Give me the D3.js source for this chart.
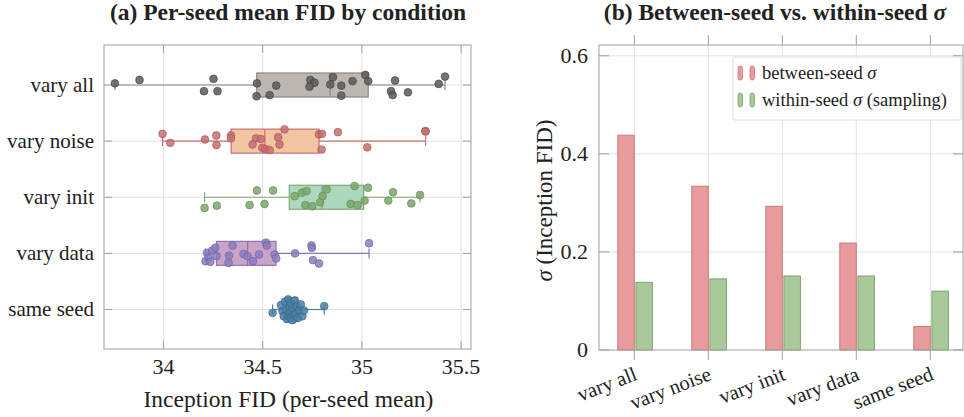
<!DOCTYPE html>
<html>
<head>
<meta charset="utf-8">
<script src="https://cdn.jsdelivr.net/npm/d3@7"></script>
<style>
  body { margin: 0; background: #fff; }
  text { font-family: "Liberation Serif", "Times New Roman", serif; fill: #222; }
</style>
</head>
<body>
<svg id="chart" width="964" height="417"></svg>
<script>
// ---- data ----
const conditions = ["vary all", "vary noise", "vary init", "vary data", "same seed"];

// per-seed mean FID values and vertical jitter (fraction of a row)
const fidVaryAll = [33.755, 33.879, 34.252, 34.204, 34.272, 34.471, 34.469, 34.535, 34.568, 34.740, 34.761, 34.736, 34.854,
  34.841, 34.896, 34.896, 34.953, 35.017, 35.032, 35.167, 35.147, 35.155, 35.232, 35.387, 35.419];
const jitVaryAll = [-0.03, -0.09, -0.11, 0.11, 0.11, -0.03, 0.20, 0.18, 0.01, -0.09, -0.04, 0.03, -0.14,
  -0.01, 0.01, 0.19, -0.07, -0.18, -0.07, -0.08, 0.11, 0.18, 0.13, -0.02, -0.15];

const fidVaryNoise = [33.995, 34.034, 34.209, 34.266, 34.267, 34.340, 34.340, 34.466, 34.491, 34.449, 34.498, 34.513,
  34.535, 34.578, 34.585, 34.610, 34.784, 34.799, 34.797, 34.879, 35.027, 35.320, 35.321];
const jitVaryNoise = [-0.13, 0.03, -0.03, -0.10, 0.07, -0.10, -0.05, -0.05, -0.04, 0.06, 0.12, 0.14,
  0.16, -0.07, 0.06, -0.21, -0.12, -0.13, 0.15, -0.16, 0.11, -0.18, -0.17];

const fidVaryInit = [34.207, 34.269, 34.471, 34.552, 34.434, 34.509, 34.661, 34.698, 34.721, 34.715, 34.750, 34.790,
  34.802, 34.822, 34.943, 34.963, 34.978, 35.014, 35.031, 35.133, 35.157, 35.249, 35.293];
const jitVaryInit = [0.19, 0.15, -0.12, -0.12, 0.14, 0.12, -0.02, -0.08, -0.11, 0.14, 0.16, 0.09,
  -0.02, -0.14, 0.12, -0.20, 0.14, 0.06, -0.17, 0.06, -0.09, 0.11, -0.04];

const fidVaryData = [34.212, 34.219, 34.227, 34.236, 34.245, 34.261, 34.267, 34.348, 34.330, 34.328, 34.403, 34.424,
  34.451, 34.481, 34.516, 34.521, 34.560, 34.568, 34.663, 34.746, 34.748, 34.753, 34.784, 35.036];
const jitVaryData = [0.14, -0.01, 0.08, 0.15, -0.05, -0.10, 0.05, -0.14, 0.04, 0.17, 0.01, 0.05,
  0.14, 0.02, -0.19, -0.14, 0.02, 0.09, 0.00, -0.14, -0.10, 0.12, 0.18, -0.18];

const fidSameSeed = [34.550, 34.592, 34.600, 34.606, 34.612, 34.618, 34.622, 34.628, 34.632, 34.636, 34.640, 34.643,
  34.646, 34.650, 34.654, 34.658, 34.662, 34.666, 34.672, 34.678, 34.684, 34.692, 34.700, 34.708, 34.810];
const jitSameSeed = [0.06, -0.08, 0.03, 0.12, -0.14, 0.00, 0.17, -0.18, 0.08, -0.05, 0.14, -0.11,
  0.04, 0.19, -0.02, 0.10, -0.16, 0.07, -0.06, 0.15, 0.01, -0.09, 0.12, 0.02, -0.06];

// box stats: [whisker low, q1, median, q3, whisker high]
const boxVaryAll   = [33.755, 34.470, 34.840, 35.032, 35.419];
const boxVaryNoise = [33.995, 34.341, 34.511, 34.784, 35.321];
const boxVaryInit  = [34.207, 34.634, 34.799, 35.009, 35.293];
const boxVaryData  = [34.212, 34.267, 34.424, 34.567, 35.036];
const boxSameSeed  = [34.550, 34.618, 34.645, 34.675, 34.810];

const xTicksA = [34, 34.5, 35, 35.5];

// panel (b)
const sigmaBetween = [0.438, 0.334, 0.293, 0.218, 0.048];
const sigmaWithin  = [0.138, 0.145, 0.151, 0.151, 0.120];
const yTicksB = [0, 0.2, 0.4, 0.6];

// ---- styles ----
const palette = {
  "vary all":   {pt: "#5a5a5a", ptStroke: "#3e3e3e", box: "#bcb7b2", line: "#8c8884"},
  "vary noise": {pt: "#c46e6e", ptStroke: "#a85454", box: "#f3c4a0", line: "#c27272"},
  "vary init":  {pt: "#7ea46e", ptStroke: "#62894f", box: "#acd9bd", line: "#82a874"},
  "vary data":  {pt: "#8c7cbc", ptStroke: "#6f5fa2", box: "#caa4c6", line: "#8a76b6"},
  "same seed":  {pt: "#4a7fa3", ptStroke: "#346688", box: "#9cbbd2", line: "#4a7fa3"}
};
const gridCol = "#e3e3e3", frameCol = "#a0a0a0";
const tickFont = 22, labelFont = 21, titleFont = 23.5;

const rows = [
  {name: conditions[0], fid: fidVaryAll, jit: jitVaryAll, box: boxVaryAll},
  {name: conditions[1], fid: fidVaryNoise, jit: jitVaryNoise, box: boxVaryNoise},
  {name: conditions[2], fid: fidVaryInit, jit: jitVaryInit, box: boxVaryInit},
  {name: conditions[3], fid: fidVaryData, jit: jitVaryData, box: boxVaryData},
  {name: conditions[4], fid: fidSameSeed, jit: jitSameSeed, box: boxSameSeed}
];

const svg = d3.select("#chart");

// ================= panel (a) =================
const A = {left: 104, right: 471, top: 45, bottom: 349};
const x = d3.scaleLinear().domain([33.70, 35.55]).range([A.left, A.right]);
const y = d3.scalePoint().domain(conditions).range([85, 309.5]);
const rowH = y.step();

const ga = svg.append("g");

ga.selectAll("line.vgrid").data(xTicksA).enter().append("line")
  .attr("x1", d => x(d)).attr("x2", d => x(d))
  .attr("y1", A.top).attr("y2", A.bottom)
  .attr("stroke", gridCol).attr("stroke-width", 1);
ga.selectAll("line.hgrid").data(conditions).enter().append("line")
  .attr("x1", A.left).attr("x2", A.right)
  .attr("y1", d => y(d)).attr("y2", d => y(d))
  .attr("stroke", gridCol).attr("stroke-width", 1);

// ticks (inside, both sides)
ga.selectAll("line.tt").data(xTicksA).enter().append("line")
  .attr("x1", d => x(d)).attr("x2", d => x(d))
  .attr("y1", A.top).attr("y2", A.top + 8)
  .attr("stroke", frameCol);
ga.selectAll("line.tb").data(xTicksA).enter().append("line")
  .attr("x1", d => x(d)).attr("x2", d => x(d))
  .attr("y1", A.bottom).attr("y2", A.bottom - 8)
  .attr("stroke", frameCol);
ga.selectAll("line.tl").data(conditions).enter().append("line")
  .attr("x1", A.left).attr("x2", A.left + 8)
  .attr("y1", d => y(d)).attr("y2", d => y(d))
  .attr("stroke", frameCol);
ga.selectAll("line.tr").data(conditions).enter().append("line")
  .attr("x1", A.right).attr("x2", A.right - 8)
  .attr("y1", d => y(d)).attr("y2", d => y(d))
  .attr("stroke", frameCol);

const boxH = 24;
rows.forEach(function (r) {
  const c = palette[r.name], cy = y(r.name), b = r.box;
  const g = ga.append("g");
  // whiskers
  g.append("line").attr("x1", x(b[0])).attr("x2", x(b[1])).attr("y1", cy).attr("y2", cy)
    .attr("stroke", c.line).attr("stroke-width", 1.2);
  g.append("line").attr("x1", x(b[3])).attr("x2", x(b[4])).attr("y1", cy).attr("y2", cy)
    .attr("stroke", c.line).attr("stroke-width", 1.2);
  [b[0], b[4]].forEach(v => g.append("line")
    .attr("x1", x(v)).attr("x2", x(v)).attr("y1", cy - 5).attr("y2", cy + 5)
    .attr("stroke", c.line).attr("stroke-width", 1.2));
  // box
  g.append("rect")
    .attr("x", x(b[1])).attr("y", cy - boxH / 2)
    .attr("width", x(b[3]) - x(b[1])).attr("height", boxH)
    .attr("fill", c.box).attr("stroke", c.line).attr("stroke-width", 1.2);
  g.append("line").attr("x1", x(b[2])).attr("x2", x(b[2]))
    .attr("y1", cy - boxH / 2).attr("y2", cy + boxH / 2)
    .attr("stroke", c.line).attr("stroke-width", 1.2);
  // jittered points
  g.selectAll("circle").data(r.fid.map((v, i) => ({v: v, j: r.jit[i]}))).enter()
    .append("circle")
    .attr("cx", d => x(d.v))
    .attr("cy", d => cy + d.j * rowH)
    .attr("r", 3.9)
    .attr("fill", c.pt).attr("fill-opacity", 0.85)
    .attr("stroke", c.ptStroke).attr("stroke-width", 0.6);
});

// frame
ga.append("rect").attr("x", A.left).attr("y", A.top)
  .attr("width", A.right - A.left).attr("height", A.bottom - A.top)
  .attr("fill", "none").attr("stroke", frameCol).attr("stroke-width", 1);

ga.selectAll("text.xt").data(xTicksA).enter().append("text")
  .attr("x", d => x(d)).attr("y", A.bottom + 25)
  .attr("text-anchor", "middle").attr("font-size", tickFont)
  .text(d => d);
ga.selectAll("text.yt").data(conditions).enter().append("text")
  .attr("x", A.left - 10).attr("y", d => y(d)).attr("dy", "0.32em")
  .attr("text-anchor", "end").attr("font-size", labelFont)
  .text(d => d);
ga.append("text").attr("x", (A.left + A.right) / 2 + 1).attr("y", 407)
  .attr("text-anchor", "middle").attr("font-size", titleFont)
  .text("Inception FID (per-seed mean)");
ga.append("text").attr("x", 288).attr("y", 20)
  .attr("text-anchor", "middle").attr("font-size", titleFont).attr("font-weight", "bold")
  .text("(a) Per-seed mean FID by condition");

// ================= panel (b) =================
const B = {left: 599, right: 963, top: 45, bottom: 350};
const xb = d3.scalePoint().domain(conditions).range([634.3, 930.3]);
const yb = d3.scaleLinear().domain([0, 0.622]).range([B.bottom, B.top]);
const barW = 16.5, barGap = 1.6;
const red = {fill: "#e89b9b", stroke: "#c97a7a"};
const green = {fill: "#a9c99a", stroke: "#7fa56f"};

const gb = svg.append("g");
gb.selectAll("line.vg").data(conditions).enter().append("line")
  .attr("x1", d => xb(d)).attr("x2", d => xb(d))
  .attr("y1", B.top).attr("y2", B.bottom)
  .attr("stroke", gridCol);
gb.selectAll("line.hg").data(yTicksB.slice(1)).enter().append("line")
  .attr("x1", B.left).attr("x2", B.right)
  .attr("y1", d => yb(d)).attr("y2", d => yb(d))
  .attr("stroke", gridCol);
// ticks
gb.selectAll("line.tt").data(conditions).enter().append("line")
  .attr("x1", d => xb(d)).attr("x2", d => xb(d))
  .attr("y1", B.top).attr("y2", B.top - 10).attr("stroke", frameCol);
gb.selectAll("line.tb").data(conditions).enter().append("line")
  .attr("x1", d => xb(d)).attr("x2", d => xb(d))
  .attr("y1", B.bottom).attr("y2", B.bottom + 10).attr("stroke", frameCol);
gb.selectAll("line.tl").data(yTicksB).enter().append("line")
  .attr("x1", B.left).attr("x2", B.left + 10)
  .attr("y1", d => yb(d)).attr("y2", d => yb(d)).attr("stroke", frameCol);
gb.selectAll("line.tr").data(yTicksB).enter().append("line")
  .attr("x1", B.right).attr("x2", B.right - 10)
  .attr("y1", d => yb(d)).attr("y2", d => yb(d)).attr("stroke", frameCol);

gb.selectAll("rect.between").data(sigmaBetween).enter().append("rect")
  .attr("x", (d, i) => xb(conditions[i]) - barW)
  .attr("y", d => yb(d)).attr("width", barW).attr("height", d => yb(0) - yb(d))
  .attr("fill", red.fill).attr("stroke", red.stroke).attr("stroke-width", 1);
gb.selectAll("rect.within").data(sigmaWithin).enter().append("rect")
  .attr("x", (d, i) => xb(conditions[i]) + barGap)
  .attr("y", d => yb(d)).attr("width", barW).attr("height", d => yb(0) - yb(d))
  .attr("fill", green.fill).attr("stroke", green.stroke).attr("stroke-width", 1);

gb.append("rect").attr("x", B.left).attr("y", B.top)
  .attr("width", B.right - B.left).attr("height", B.bottom - B.top)
  .attr("fill", "none").attr("stroke", frameCol).attr("stroke-width", 1);

gb.selectAll("text.yt").data(yTicksB).enter().append("text")
  .attr("x", B.left - 11).attr("y", d => yb(d)).attr("dy", "0.32em")
  .attr("text-anchor", "end").attr("font-size", tickFont)
  .text(d => d);
gb.selectAll("text.xt").data(conditions).enter().append("text")
  .attr("text-anchor", "end").attr("font-size", 20.5)
  .attr("transform", d => `translate(${xb(d) - 1},${B.bottom + 16}) rotate(-21)`)
  .attr("dy", "0.7em")
  .text(d => d);

const yl = gb.append("text").attr("text-anchor", "middle").attr("font-size", 23)
  .attr("transform", `translate(552,${(B.top + B.bottom) / 2 + 3}) rotate(-90)`);
yl.append("tspan").attr("font-style", "italic").text("σ");
yl.append("tspan").text(" (Inception FID)");

const tb = gb.append("text").attr("x", 775).attr("y", 20)
  .attr("text-anchor", "middle").attr("font-size", titleFont).attr("font-weight", "bold");
tb.append("tspan").text("(b) Between-seed vs. within-seed ");
tb.append("tspan").attr("font-style", "italic").text("σ");

// legend
const lg = gb.append("g").attr("transform", "translate(733,57)");
lg.append("rect").attr("width", 228).attr("height", 63).attr("rx", 2)
  .attr("fill", "#fff").attr("fill-opacity", 0.9).attr("stroke", "#dcdcdc");
const legendItems = [
  {c: red, parts: [["between-seed ", false], ["σ", true]]},
  {c: green, parts: [["within-seed ", false], ["σ", true], [" (sampling)", false]]}
];
legendItems.forEach(function (it, i) {
  const cy = 16 + i * 27;
  [5, 17].forEach(ox => lg.append("rect")
    .attr("x", ox).attr("y", cy - 7).attr("width", 4.5).attr("height", 14).attr("rx", 2.2)
    .attr("fill", it.c.fill).attr("stroke", it.c.stroke).attr("stroke-width", 0.8));
  const t = lg.append("text").attr("x", 29).attr("y", cy).attr("dy", "0.32em").attr("font-size", 18.5);
  it.parts.forEach(p => t.append("tspan").attr("font-style", p[1] ? "italic" : null).text(p[0]));
});
</script>
</body>
</html>
